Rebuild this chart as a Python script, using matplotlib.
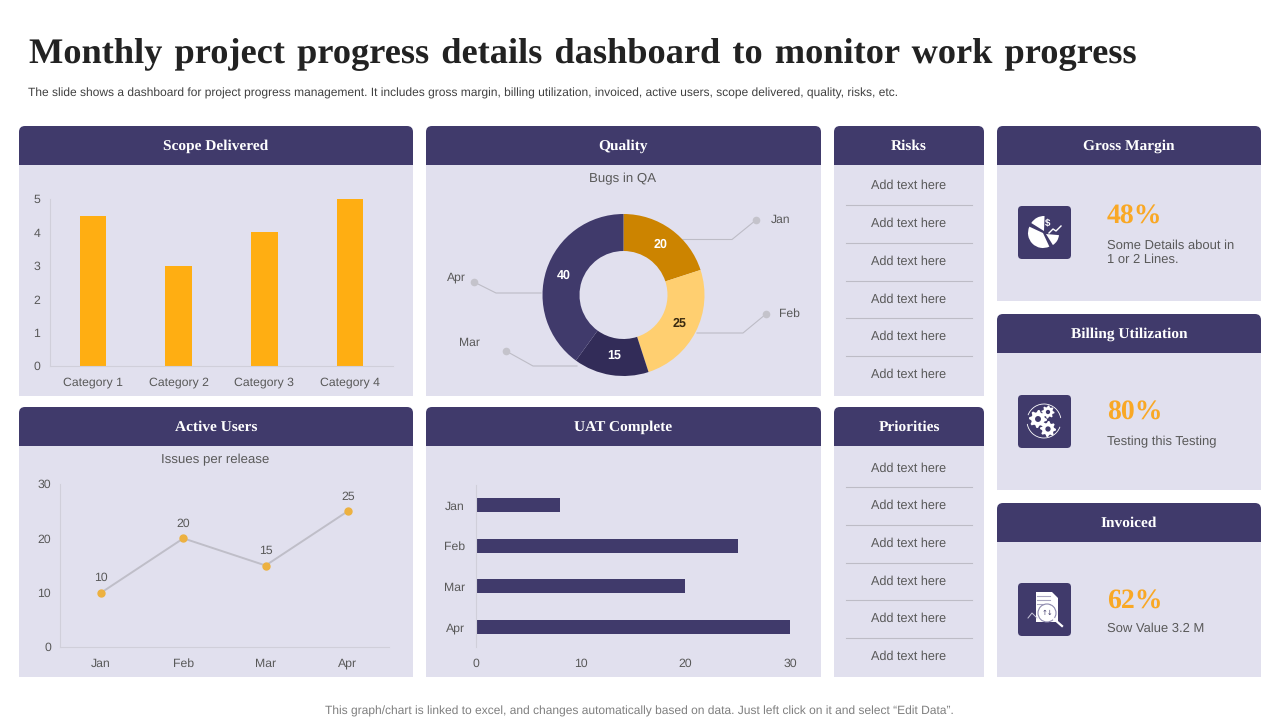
import numpy as np
import matplotlib
matplotlib.use('Agg')
import matplotlib.pyplot as plt
from matplotlib.patches import FancyBboxPatch, Rectangle, Wedge, Circle, Polygon, Arc

# data
bar_cats = ['Category 1', 'Category 2', 'Category 3', 'Category 4']
bar_vals = [4.5, 3, 4, 5]
months = ['Jan', 'Feb', 'Mar', 'Apr']
donut_vals = [20, 25, 15, 40]
line_vals = [10, 20, 15, 25]
uat_vals = [8, 25, 20, 30]
row_text = 'Add text here'

DARK = '#403A6B'
BODY = '#E1E0EE'
ORANGE = '#FFAE12'
GREY = '#595959'
SANS = 'Liberation Sans'
SERIF = 'Liberation Serif'

plt.rcParams['font.family'] = SANS
plt.rcParams['text.hinting'] = 'no_hinting'

fig = plt.figure(figsize=(12.8, 7.2), dpi=100)
bg = fig.add_axes([0, 0, 1, 1])
bg.set_xlim(0, 1280)
bg.set_ylim(720, 0)
bg.axis('off')


def px_axes(x0, y0, x1, y1):
    # axes from pixel box
    ax = fig.add_axes([x0 / 1280, 1 - y1 / 720, (x1 - x0) / 1280, (y1 - y0) / 720])
    ax.patch.set_alpha(0)
    return ax


def panel(x0, x1, y0, y1, title):
    head = FancyBboxPatch((x0 + 6, y0 + 6), x1 - x0 - 12, 46, boxstyle='round,pad=6,rounding_size=6',
                          fc=DARK, lw=0)
    bg.add_patch(head)
    bg.add_patch(Rectangle((x0, y0 + 39), x1 - x0, y1 - y0 - 39, fc=BODY, lw=0, zorder=2))
    bg.text((x0 + x1) / 2, y0 + 20.5, title, color='white', fontsize=11.1, fontweight='bold',
            family=SERIF, ha='center', va='center', zorder=3)


def gear(cx, cy, r, teeth=8):
    ang = np.linspace(0, 2 * np.pi, teeth * 4, endpoint=False)
    rad = np.tile([r, r, r * 0.76, r * 0.76], teeth)
    bg.add_patch(Polygon(np.c_[cx + rad * np.cos(ang), cy + rad * np.sin(ang)], fc='white', lw=0, zorder=4))
    bg.add_patch(Circle((cx, cy), r * 0.33, fc=DARK, lw=0, zorder=5))


def icon_box(x, y):
    bg.add_patch(FancyBboxPatch((x + 4, y + 4), 45, 45, boxstyle='round,pad=4,rounding_size=4',
                                fc=DARK, lw=0, zorder=3))


# titles
title = 'Monthly project progress details dashboard to monitor work progress'
bg.text(29, 55, title.replace(' ', ' \u200a'),
        family=SERIF, fontweight='bold', fontsize=26.2, color='#222222', ha='left', va='center')
bg.text(28, 93.5, 'The slide shows a dashboard for project progress management. It includes gross margin, '
        'billing utilization, invoiced, active users, scope delivered, quality, risks, etc.',
        fontsize=8.65, color='#404040', ha='left', va='center')
bg.text(639, 711.5, 'This graph/chart is linked to excel, and changes automatically based on data. '
        'Just left click on it and select \u201cEdit Data\u201d.',
        fontsize=8.65, color='#7F7F7F', ha='center', va='center')

panel(19, 413, 126, 396, 'Scope Delivered')
panel(426, 821, 126, 396, 'Quality')
panel(834, 984, 126, 396, 'Risks')
panel(19, 413, 407, 677, 'Active Users')
panel(426, 821, 407, 677, 'UAT Complete')
panel(834, 984, 407, 677, 'Priorities')
panel(997, 1261, 126, 301, 'Gross Margin')
panel(997, 1261, 314, 490, 'Billing Utilization')
panel(997, 1261, 503, 677, 'Invoiced')

# text rows
for ys in ([185, 223, 261, 299, 336, 374], [468, 505, 543, 581, 618, 656]):
    for i, y in enumerate(ys):
        bg.text(909, y + 0.5, row_text, fontsize=9.1, color=GREY, ha='center', va='center', zorder=3)
        if i < len(ys) - 1:
            bg.plot([846, 972], [(y + ys[i + 1]) / 2 + 0.5] * 2, color='#BDBCC6', lw=0.8, zorder=3)

# kpi blocks
kpis = [(216.5, '48%', 'Some Details about in\n1 or 2 Lines.', 252.5),
        (412.5, '80%', 'Testing this Testing', 441.5),
        (601.5, '62%', 'Sow Value 3.2 M', 628.5)]
for y, big, small, ys in kpis:
    bg.text(1107, y, big, family=SERIF, fontweight='bold', fontsize=20, color='#F9A825',
            ha='left', va='center', zorder=3)
    bg.text(1107, ys, small, fontsize=9.4, color=GREY, ha='left', va='center', zorder=3, linespacing=1.3)

# icons
icon_box(1018, 206)
icon_box(1018, 395)
icon_box(1018, 583)

bg.add_patch(Wedge((1043, 233), 15, 65, 205, fc='white', lw=0, zorder=4))
bg.add_patch(Wedge((1044, 231), 15, 212, 272, fc='white', lw=0, zorder=4))
bg.add_patch(Wedge((1046, 234), 13, 5, 58, fc='white', lw=0, zorder=4))
bg.plot([1049, 1053, 1056, 1061], [233, 229, 231, 226], color='white', lw=1, zorder=4)
bg.text(1048, 224, '$', color='white', fontsize=7, fontweight='bold', ha='center', va='center', zorder=4)

gear(1038, 419, 9)
gear(1048, 412, 6.5)
gear(1048, 429, 8)
bg.add_patch(Arc((1044, 421), 34, 34, theta1=20, theta2=170, ec='white', lw=0.6, zorder=4))
bg.add_patch(Arc((1044, 421), 34, 34, theta1=200, theta2=350, ec='white', lw=0.6, zorder=4))

bg.add_patch(Polygon([(1036, 592), (1052, 592), (1058, 598), (1058, 622), (1036, 622)], fc='white', lw=0, zorder=4))
for yy in (596, 600, 604):
    bg.plot([1037, 1050], [yy, yy], color='#A9A6C0', lw=0.8, zorder=5)
bg.add_patch(Circle((1047, 613), 9, fc='white', ec='#8E8AAE', lw=0.8, zorder=5))
bg.plot([1054, 1062], [619, 626], color='white', lw=1.6, zorder=5)
bg.plot([1028, 1032, 1037], [618, 613, 618], color='#C9C7DA', lw=0.7, zorder=4)
bg.text(1047, 613, '\u2191\u2193', fontsize=5, color=DARK, ha='center', va='center', zorder=6,
        family='DejaVu Sans')

AXC = '#D0CFDA'
TICK = dict(labelsize=8.8, labelcolor=GREY, length=0)

# scope delivered
ax = px_axes(50, 199, 393, 366)
ax.bar(bar_cats, bar_vals, width=0.31, color=ORANGE)
ax.set_xlim(-0.5, 3.5)
ax.set_ylim(0, 5)
ax.set_yticks(range(6))
ax.tick_params(**TICK)
ax.tick_params(axis='y', pad=7)
ax.tick_params(axis='x', pad=8)
for s in ('top', 'right'):
    ax.spines[s].set_visible(False)
for s in ('left', 'bottom'):
    ax.spines[s].set_color(AXC)

# quality donut
bg.text(623, 178.5, 'Bugs in QA', fontsize=9.5, color=GREY, ha='center', va='center', zorder=3)
ax = px_axes(542.5, 214, 704.5, 376)
wedges, _, autotexts = ax.pie(donut_vals, colors=['#CC8400', '#FFCF70', '#322C58', DARK],
                              startangle=90, counterclock=False, radius=1,
                              wedgeprops=dict(width=37 / 81), pctdistance=0.77,
                              autopct=lambda p: '%d' % round(p))
ax.set_xlim(-1, 1)
ax.set_ylim(-1, 1)
for t, c in zip(autotexts, ['white', '#3A2A10', 'white', 'white']):
    t.set_color(c)
    t.set_fontsize(9)
    t.set_fontweight('bold')

leaders = [([683, 732, 756], [239.5, 239.5, 220], 'Jan', 781, 219.5),
           ([697, 743, 766], [333, 333, 314], 'Feb', 789, 313.5),
           ([577, 533, 506], [366, 366, 351], 'Mar', 469, 343),
           ([541, 496, 474], [293, 293, 282], 'Apr', 456, 277.5)]
for xs, ys, lab, lx, ly in leaders:
    bg.plot(xs, ys, color='#BDBCC6', lw=0.8, zorder=3)
    bg.plot(xs[-1], ys[-1], 'o', color='#C4C3CB', ms=5.5, mew=0, zorder=3)
    bg.text(lx, ly, lab, fontsize=8.7, color=GREY, ha='center', va='center', zorder=3)

# active users
bg.text(215, 459.5, 'Issues per release', fontsize=9.5, color=GREY, ha='center', va='center', zorder=3)
ax = px_axes(60, 484, 389, 647)
ax.plot(months, line_vals, color='#BFBEC8', lw=1.4, marker='o', ms=5, mfc='#EDB140', mec='#EDB140')
ax.set_xlim(-0.5, 3.5)
ax.set_ylim(0, 30)
ax.set_yticks([0, 10, 20, 30])
ax.tick_params(**TICK)
ax.tick_params(axis='y', pad=6.5)
ax.tick_params(axis='x', pad=8)
for i, v in enumerate(line_vals):
    ax.annotate(str(v), (i, v), xytext=(0, 6.5), textcoords='offset points', ha='center',
                va='bottom', fontsize=8.8, color=GREY)
for s in ('top', 'right'):
    ax.spines[s].set_visible(False)
for s in ('left', 'bottom'):
    ax.spines[s].set_color(AXC)

# uat complete
ax = px_axes(476, 485, 790, 647)
ax.barh(months, uat_vals, height=0.35, color=DARK)
ax.set_xlim(0, 30)
ax.set_ylim(3.5, -0.5)
ax.set_xticks([0, 10, 20, 30])
ax.tick_params(**TICK)
ax.tick_params(axis='y', pad=8)
ax.tick_params(axis='x', pad=8)
for s in ('top', 'right', 'bottom'):
    ax.spines[s].set_visible(False)
ax.spines['left'].set_color(AXC)

fig.savefig('out.png', dpi=100)
